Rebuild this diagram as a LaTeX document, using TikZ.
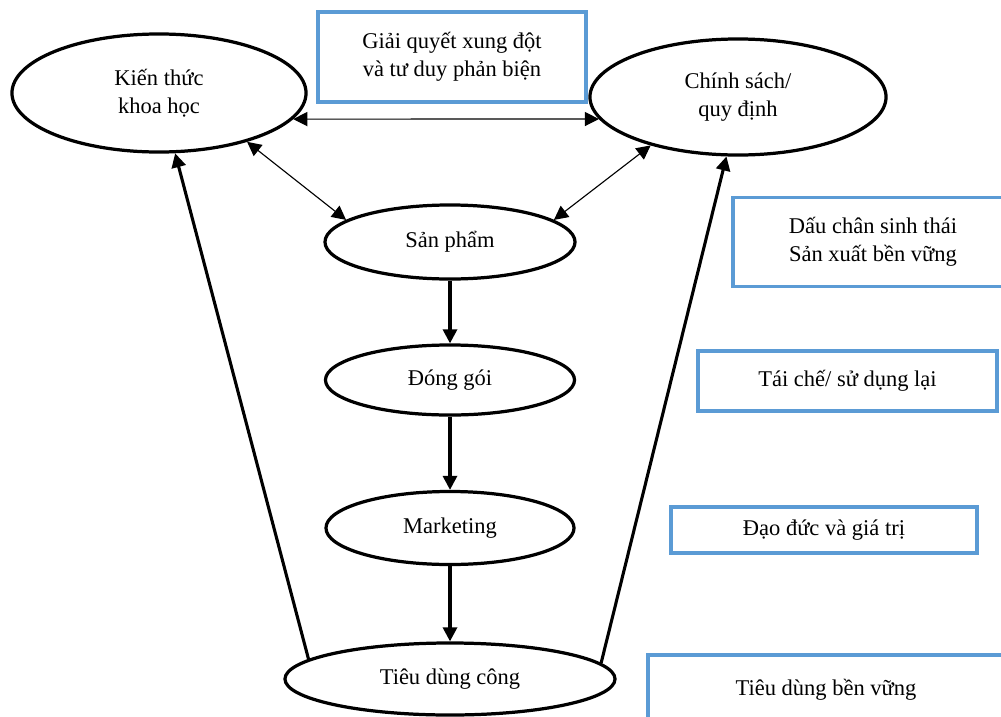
\documentclass[tikz,border=0pt]{standalone}
\usepackage{fontspec}
\setmainfont{Liberation Serif}
\usetikzlibrary{shapes.geometric,arrows.meta}
\definecolor{boxblue}{RGB}{91,155,213}
\begin{document}
\begin{tikzpicture}[x=0.025cm,y=-0.025cm,>={Triangle[length=10pt,width=10pt]},
   font=\fontsize{16}{20}\selectfont,
   oval/.style={ellipse,draw,line width=2.3pt,inner sep=0pt,align=center},
   tbox/.style={rectangle,draw=boxblue,line width=2.6pt,inner sep=0pt,align=center},
   flow/.style={->,line width=2.2pt},
   link/.style={<->,line width=0.8pt}]
   \useasboundingbox (0,0) rectangle (1001,717);
   \clip (0,0) rectangle (1001,717);
   % ovals
   \node[oval,minimum width=7.35cm,minimum height=2.95cm] (kt) at (159,93) {Kiến thức\\khoa học};
   \node[oval,minimum width=7.4cm,minimum height=2.9cm] (cs) at (738,97) {Chính sách/\\quy định};
   \node[oval,minimum width=6.25cm,minimum height=1.85cm] (sp) at (450,242) {Sản phẩm};
   \node[oval,minimum width=6.225cm,minimum height=1.75cm] (dg) at (450,380) {Đóng gói};
   \node[oval,minimum width=6.2cm,minimum height=1.825cm] (mk) at (450,528) {Marketing};
   \node[oval,minimum width=8.25cm,minimum height=1.8cm] (tdc) at (450,679) {Tiêu dùng công};
   % boxes
   \node[tbox,minimum width=6.7cm,minimum height=2.25cm] (gq) at (452,57) {Giải quyết xung đột\\và tư duy phản biện};
   \node[tbox,minimum width=7cm,minimum height=2.225cm] (dc) at (873,242) {Dấu chân sinh thái\\Sản xuất bền vững};
   \node[tbox,minimum width=7.475cm,minimum height=1.5cm] (tc) at (847.5,381) {Tái chế/ sử dụng lại};
   \node[tbox,minimum width=7.65cm,minimum height=1.15cm] (dd) at (824,530) {Đạo đức và giá trị};
   \node[tbox,minimum width=8.9cm,minimum height=1.75cm] (bv) at (826,690) {Tiêu dùng bền vững};
   % connectors
   \draw[link] (kt.-11) -- (cs.189);
   \draw[link] (kt.-29) -- (sp.168);
   \draw[link] (cs.209) -- (sp.12);
   \draw[flow] (sp.south) -- (dg.north);
   \draw[flow] (dg.south) -- (mk.north);
   \draw[flow] (mk.south) -- (tdc.north);
   \draw[flow] (tdc.172) -- (kt.-75);
   \draw[flow] (tdc.6) -- (cs.-101);
\end{tikzpicture}
\end{document}
